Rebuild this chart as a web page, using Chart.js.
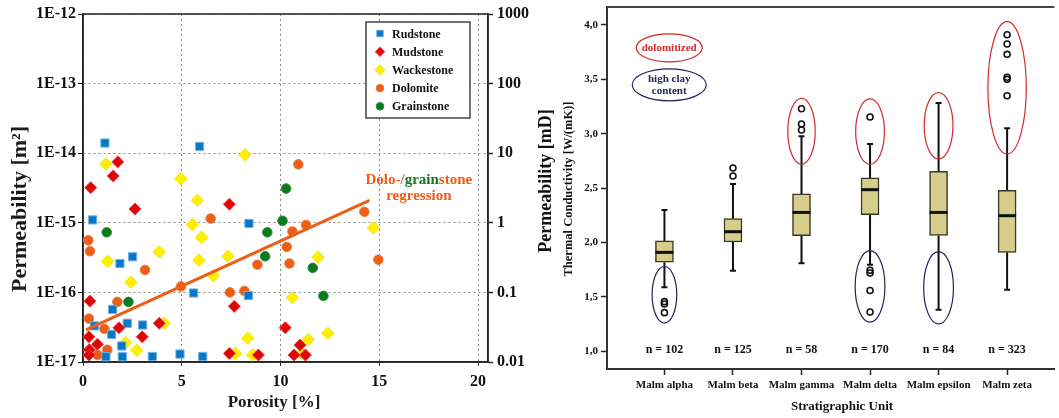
<!DOCTYPE html>
<html>
<head>
<meta charset="utf-8">
<script src="https://cdn.jsdelivr.net/npm/chart.js@4.4.1/dist/chart.umd.min.js"></script>
<style>
  html, body { margin: 0; padding: 0; background: #fff; }
  #wrap { position: relative; width: 1059px; height: 418px; overflow: hidden; }
  #porosity { position: absolute; left: 0; top: 0; }
  #conductivity { position: absolute; left: 530px; top: 0; }
</style>
</head>
<body>
<div id="wrap">
  <canvas id="porosity" width="530" height="418"></canvas>
  <canvas id="conductivity" width="529" height="418"></canvas>
</div>
<script>
// ---- Left: porosity vs permeability ----
var rudstone = [[1.11, 1.4e-14], [5.9, 1.25e-14], [0.49, 1.1e-15], [8.4, 9.8e-16], [1.87, 2.6e-16],
  [2.51, 3.25e-16], [5.6, 9.8e-17], [8.37, 9e-17], [1.5, 5.7e-17], [0.57, 3.3e-17], [2.24, 3.6e-17],
  [3.02, 3.4e-17], [1.45, 2.5e-17], [1.96, 1.7e-17], [1.16, 1.19e-17], [1.99, 1.19e-17],
  [3.51, 1.2e-17], [4.91, 1.3e-17], [6.06, 1.2e-17]];
var mudstone = [[1.76, 7.5e-15], [1.53, 4.7e-15], [0.39, 3.2e-15], [7.41, 1.85e-15], [2.63, 1.58e-15],
  [7.66, 6.3e-17], [0.35, 7.5e-17], [1.82, 3.1e-17], [3.86, 3.6e-17], [0.3, 2.3e-17], [3.0, 2.3e-17],
  [0.73, 1.8e-17], [0.32, 1.5e-17], [0.3, 1.26e-17], [7.41, 1.33e-17], [8.88, 1.26e-17],
  [10.24, 3.1e-17], [10.99, 1.75e-17], [10.68, 1.26e-17], [11.26, 1.26e-17]];
var wackestone = [[1.16, 7e-15], [4.96, 4.3e-15], [5.79, 2.1e-15], [8.2, 9.5e-15], [5.54, 9.4e-16],
  [6.0, 6.2e-16], [1.25, 2.8e-16], [3.86, 3.8e-16], [2.43, 1.4e-16], [5.87, 2.9e-16], [6.6, 1.75e-16],
  [7.33, 3.3e-16], [14.7, 8.4e-16], [11.9, 3.2e-16], [10.6, 8.4e-17], [4.12, 3.6e-17], [2.16, 1.9e-17],
  [2.72, 1.48e-17], [7.71, 1.33e-17], [8.34, 2.2e-17], [8.59, 1.26e-17], [12.39, 2.6e-17],
  [11.4, 2.1e-17], [11.05, 1.35e-17]];
var dolomite = [[10.9, 6.9e-15], [14.24, 1.44e-15], [11.29, 9.3e-16], [10.6, 7.5e-16], [10.31, 4.5e-16],
  [14.95, 2.95e-16], [8.83, 2.5e-16], [10.45, 2.6e-16], [8.17, 1.05e-16], [7.44, 1.0e-16],
  [6.46, 1.15e-15], [4.96, 1.22e-16], [0.27, 5.6e-16], [0.35, 3.9e-16], [3.14, 2.1e-16],
  [0.3, 4.2e-17], [1.74, 7.3e-17], [1.08, 3.0e-17], [1.23, 1.5e-17], [0.74, 1.26e-17]];
var grainstone = [[10.28, 3.1e-15], [10.1, 1.07e-15], [9.33, 7.3e-16], [9.22, 3.3e-16],
  [11.63, 2.25e-16], [12.17, 8.9e-17], [1.2, 7.3e-16], [2.3, 7.3e-17]];
var regressionLine = [[0.15, 2.9e-17], [14.5, 2.1e-15]];
var porosityTicks = [0, 5, 10, 15, 20];
var permTicks = [1e-17, 1e-16, 1e-15, 1e-14, 1e-13, 1e-12];
var mdTicks = [0.01, 0.1, 1, 10, 100, 1000];

// ---- Right: thermal conductivity per stratigraphic unit ----
var units = ['Malm alpha', 'Malm beta', 'Malm gamma', 'Malm delta', 'Malm epsilon', 'Malm zeta'];
var counts = [102, 125, 58, 170, 84, 323];
var q1 = [1.82, 2.005, 2.063, 2.256, 2.066, 1.91];
var median = [1.91, 2.10, 2.277, 2.486, 2.277, 2.247];
var q3 = [2.015, 2.22, 2.447, 2.594, 2.654, 2.48];
var whiskerLow = [1.59, 1.742, 1.81, 1.797, 1.383, 1.567];
var whiskerHigh = [2.30, 2.539, 2.976, 2.907, 3.283, 3.05];
var outliers = [[1.457, 1.435, 1.356], [2.686, 2.612], [3.23, 3.09, 3.035],
  [3.154, 1.745, 1.72, 1.56, 1.362], [], [3.91, 3.825, 3.73, 3.52, 3.50, 3.35]];
var conductivityTicks = [1.0, 1.5, 2.0, 2.5, 3.0, 3.5, 4.0];
// outlier groups: unit index (1-based), low/high value, half width in unit steps
var dolomitized = [[3, 2.72, 3.326, 0.2], [4, 2.72, 3.32, 0.21], [5, 2.768, 3.378, 0.21], [6, 2.814, 4.03, 0.28]];
var highClay = [[1, 1.26, 1.78, 0.18], [4, 1.268, 1.926, 0.217], [5, 1.252, 1.916, 0.217]];

var serif = "'Liberation Serif', 'Times New Roman', serif";
Chart.defaults.font.family = serif;
Chart.defaults.font.weight = 'bold';
Chart.defaults.color = '#1a1a1a';

function toPoints(list) {
  return list.map(function(p) { return { x: p[0], y: p[1] }; });
}

function fixBox(size) {
  return function(scale) {
    if (scale.isHorizontal()) scale.height = size; else scale.width = size;
    scale.paddingTop = 0; scale.paddingBottom = 0; scale.paddingLeft = 0; scale.paddingRight = 0;
  };
}

function setTicks(values) {
  return function(scale) {
    scale.ticks = values.map(function(v) { return { value: v }; });
  };
}

var ORANGE = '#ec5d16';
var GREEN = '#0b7a1e';

var porosityPlugin = {
  id: 'porosityExtras',
  beforeDatasetsDraw: function(chart) {
    var a = chart.chartArea, ctx = chart.ctx;
    ctx.save();
    ctx.strokeStyle = '#222';
    ctx.lineWidth = 1.5;
    ctx.strokeRect(a.left, a.top, a.right - a.left, a.bottom - a.top);
    ctx.restore();
  },
  afterDraw: function(chart) {
    var ctx = chart.ctx, xs = chart.scales.x, ys = chart.scales.y;
    ctx.save();
    // legend box
    ctx.fillStyle = '#fff';
    ctx.fillRect(366, 22, 104, 96);
    ctx.strokeStyle = '#444';
    ctx.lineWidth = 1.5;
    ctx.strokeRect(366, 22, 104, 96);
    ctx.font = 'bold 12px ' + serif;
    ctx.textBaseline = 'middle';
    ctx.textAlign = 'left';
    var row = 0;
    chart.data.datasets.forEach(function(ds) {
      if (ds.type === 'line') return;
      var y = 33.5 + row * 18.2;
      ctx.fillStyle = ds.backgroundColor;
      ctx.strokeStyle = ds.borderColor;
      ctx.lineWidth = ds.borderWidth;
      Chart.helpers.drawPoint(ctx, { pointStyle: ds.pointStyle, radius: ds.pointRadius * 0.8, borderWidth: ds.borderWidth, rotation: 0 }, 380, y);
      ctx.fillStyle = '#111';
      ctx.fillText(ds.label, 392, y + 1);
      row++;
    });
    // regression label
    ctx.font = 'bold 15px ' + serif;
    var parts = [['Dolo-/', ORANGE], ['grain', GREEN], ['stone', ORANGE]];
    var total = parts.reduce(function(s, p) { return s + ctx.measureText(p[0]).width; }, 0);
    var cx = xs.getPixelForValue(17.0), cy = ys.getPixelForValue(4.1e-15);
    var x = cx - total / 2;
    parts.forEach(function(p) {
      ctx.fillStyle = p[1];
      ctx.fillText(p[0], x, cy);
      x += ctx.measureText(p[0]).width;
    });
    ctx.textAlign = 'center';
    ctx.fillStyle = ORANGE;
    ctx.fillText('regression', cx, cy + 16);
    // axis titles
    ctx.fillStyle = '#1a1a1a';
    ctx.font = 'bold 17px ' + serif;
    ctx.fillText('Porosity [%]', 274, 403);
    ctx.translate(20, 209);
    ctx.rotate(-Math.PI / 2);
    ctx.font = 'bold 22px ' + serif;
    ctx.fillText('Permeability [m\u00b2]', 0, 0);
    ctx.restore();
  }
};

new Chart(document.getElementById('porosity'), {
  type: 'scatter',
  data: {
    datasets: [
      { label: 'Rudstone', data: toPoints(rudstone), pointStyle: 'rect', pointRadius: 5.8, pointHoverRadius: 5.8,
        backgroundColor: '#0a76c6', borderColor: '#6fb2e6', borderWidth: 1, order: 2 },
      { label: 'Mudstone', data: toPoints(mudstone), pointStyle: 'rectRot', pointRadius: 6, pointHoverRadius: 6,
        backgroundColor: '#e00606', borderColor: '#e84040', borderWidth: 1, order: 1 },
      { label: 'Wackestone', data: toPoints(wackestone), pointStyle: 'rectRot', pointRadius: 6.2, pointHoverRadius: 6.2,
        backgroundColor: '#fff000', borderColor: '#f2e400', borderWidth: 1, order: 3 },
      { label: 'Dolomite', data: toPoints(dolomite), pointStyle: 'circle', pointRadius: 4.8, pointHoverRadius: 4.8,
        backgroundColor: '#ec5d16', borderColor: '#f07a40', borderWidth: 1, order: 4 },
      { label: 'Grainstone', data: toPoints(grainstone), pointStyle: 'circle', pointRadius: 4.8, pointHoverRadius: 4.8,
        backgroundColor: '#0b7a1e', borderColor: '#2d8f3c', borderWidth: 1, order: 5 },
      { type: 'line', label: 'regression', data: toPoints(regressionLine), borderColor: ORANGE, borderWidth: 3,
        pointRadius: 0, showLine: true, fill: false, order: -1 }
    ]
  },
  options: {
    responsive: false,
    animation: false,
    layout: { padding: { top: 14, left: 0, right: 0, bottom: 0 } },
    plugins: { legend: { display: false }, tooltip: { enabled: false } },
    scales: {
      x: {
        type: 'linear', min: 0, max: 20.5,
        afterFit: fixBox(56), afterBuildTicks: setTicks(porosityTicks),
        ticks: { font: { size: 16 }, padding: 6, autoSkip: false, maxRotation: 0, color: '#111' },
        grid: { color: '#8a8a8a', lineWidth: 1, tickLength: 4, tickColor: '#222', tickBorderDash: [] },
        border: { display: true, color: '#222', width: 1.5, dash: [2, 3] }
      },
      y: {
        type: 'logarithmic', min: 1e-17, max: 1e-12,
        afterFit: fixBox(83), afterBuildTicks: setTicks(permTicks),
        ticks: { font: { size: 16 }, padding: 2, autoSkip: false, color: '#111',
          callback: function(v) { return '1E' + Math.round(Math.log10(v)); } },
        grid: { color: '#8a8a8a', lineWidth: 1, tickLength: 5, tickColor: '#222', tickBorderDash: [] },
        border: { display: true, color: '#222', width: 1.5, dash: [2, 3] }
      },
      y2: {
        type: 'logarithmic', position: 'right', min: 0.01, max: 1000,
        afterFit: fixBox(42), afterBuildTicks: setTicks(mdTicks),
        ticks: { font: { size: 16 }, padding: 4, autoSkip: false, color: '#111',
          callback: function(v) { return String(v); } },
        grid: { drawOnChartArea: false, tickLength: 5, tickColor: '#222', tickWidth: 1.5 },
        border: { display: true, color: '#222', width: 1.5 }
      }
    }
  },
  plugins: [porosityPlugin]
});

// ---- right chart ----
var RED = '#d42a2a';
var NAVY = '#23235f';

function drawGroups(chart, groups, color) {
  var ctx = chart.ctx, xs = chart.scales.x, ys = chart.scales.y;
  ctx.strokeStyle = color;
  ctx.lineWidth = 1.2;
  groups.forEach(function(g) {
    var cx = xs.getPixelForValue(g[0]);
    var rx = xs.getPixelForValue(g[0] + g[3]) - cx;
    var top = ys.getPixelForValue(g[2]), bottom = ys.getPixelForValue(g[1]);
    ctx.beginPath();
    ctx.ellipse(cx, (top + bottom) / 2, rx, (bottom - top) / 2, 0, 0, Math.PI * 2);
    ctx.stroke();
  });
}

var boxPlugin = {
  id: 'boxParts',
  beforeDatasetsDraw: function(chart) {
    var ctx = chart.ctx, xs = chart.scales.x, ys = chart.scales.y;
    ctx.save();
    ctx.strokeStyle = '#111';
    ctx.lineWidth = 2;
    units.forEach(function(u, i) {
      var px = xs.getPixelForValue(i + 1);
      [[q3[i], whiskerHigh[i]], [q1[i], whiskerLow[i]]].forEach(function(pair) {
        var a = ys.getPixelForValue(pair[0]), b = ys.getPixelForValue(pair[1]);
        ctx.beginPath();
        ctx.moveTo(px, a); ctx.lineTo(px, b);
        ctx.moveTo(px - 3, b); ctx.lineTo(px + 3, b);
        ctx.stroke();
      });
    });
    ctx.restore();
  },
  afterDatasetsDraw: function(chart) {
    var ctx = chart.ctx, xs = chart.scales.x, ys = chart.scales.y;
    ctx.save();
    ctx.strokeStyle = '#111';
    ctx.lineWidth = 3;
    median.forEach(function(m, i) {
      var px = xs.getPixelForValue(i + 1), py = ys.getPixelForValue(m);
      ctx.beginPath();
      ctx.moveTo(px - 9, py); ctx.lineTo(px + 9, py);
      ctx.stroke();
    });
    ctx.restore();
  },
  afterDraw: function(chart) {
    var ctx = chart.ctx, xs = chart.scales.x, ys = chart.scales.y, a = chart.chartArea;
    ctx.save();
    // top frame line
    ctx.strokeStyle = '#444';
    ctx.lineWidth = 2;
    ctx.beginPath();
    ctx.moveTo(a.left, a.top); ctx.lineTo(a.right, a.top);
    ctx.stroke();
    drawGroups(chart, dolomitized, RED);
    drawGroups(chart, highClay, NAVY);
    // key ellipses
    var kx = xs.getPixelForValue(1.07);
    var k1 = ys.getPixelForValue(3.79), k2 = ys.getPixelForValue(3.45);
    ctx.lineWidth = 1.2;
    ctx.strokeStyle = RED;
    ctx.beginPath(); ctx.ellipse(kx, k1, 33, 14, 0, 0, Math.PI * 2); ctx.stroke();
    ctx.strokeStyle = NAVY;
    ctx.beginPath(); ctx.ellipse(kx, k2, 37, 16, 0, 0, Math.PI * 2); ctx.stroke();
    ctx.textAlign = 'center';
    ctx.textBaseline = 'middle';
    ctx.font = 'bold 11px ' + serif;
    ctx.fillStyle = RED;
    ctx.fillText('dolomitized', kx, k1);
    ctx.fillStyle = NAVY;
    ctx.fillText('high clay', kx, k2 - 5.5);
    ctx.fillText('content', kx, k2 + 6);
    // sample counts
    ctx.fillStyle = '#111';
    ctx.font = 'bold 12px ' + serif;
    counts.forEach(function(n, i) {
      ctx.fillText('n = ' + n, xs.getPixelForValue(i + 1), ys.getPixelForValue(1.0) - 1);
    });
    // titles
    ctx.font = 'bold 13px ' + serif;
    ctx.fillText('Stratigraphic Unit', 312, 407);
    ctx.save();
    ctx.translate(16, 181);
    ctx.rotate(-Math.PI / 2);
    ctx.font = 'bold 18px ' + serif;
    ctx.fillText('Permeability [mD]', 0, 0);
    ctx.restore();
    ctx.translate(39, 189);
    ctx.rotate(-Math.PI / 2);
    ctx.font = 'bold 12.5px ' + serif;
    ctx.fillText('Thermal Conductivity [W/(mK)]', 0, 0);
    ctx.restore();
  }
};

var outlierPoints = [];
outliers.forEach(function(list, i) {
  list.forEach(function(v) { outlierPoints.push({ x: i + 1, y: v }); });
});

new Chart(document.getElementById('conductivity'), {
  type: 'bar',
  data: {
    datasets: [
      { type: 'scatter', data: outlierPoints, pointStyle: 'circle', pointRadius: 3, pointHoverRadius: 3,
        borderWidth: 1.6, borderColor: '#111', backgroundColor: 'rgba(255,255,255,0)', order: 0 },
      { type: 'bar', data: units.map(function(u, i) { return { x: i + 1, y: [q1[i], q3[i]] }; }),
        backgroundColor: '#d7ce8c', borderColor: '#3a3724', borderWidth: 1.5, borderSkipped: false,
        barThickness: 18, order: 1 }
    ]
  },
  options: {
    responsive: false,
    animation: false,
    layout: { padding: { top: 7, left: 0, right: 0, bottom: 0 } },
    plugins: { legend: { display: false }, tooltip: { enabled: false } },
    scales: {
      x: {
        type: 'linear', min: 0.162, max: 6.69, offset: false,
        afterFit: fixBox(49), afterBuildTicks: setTicks([1, 2, 3, 4, 5, 6]),
        ticks: { font: { size: 11 }, padding: 4, autoSkip: false, maxRotation: 0, color: '#111',
          callback: function(v) { return units[Math.round(v) - 1]; } },
        grid: { drawOnChartArea: false, offset: false, tickLength: 6, tickColor: '#222', tickWidth: 1.5 },
        border: { display: true, color: '#333', width: 2 }
      },
      y: {
        type: 'linear', min: 0.838, max: 4.165, beginAtZero: false,
        afterFit: fixBox(77), afterBuildTicks: setTicks(conductivityTicks),
        ticks: { font: { size: 11 }, padding: 3, autoSkip: false, color: '#111',
          callback: function(v) { return v.toFixed(1).replace('.', ','); } },
        grid: { drawOnChartArea: false, tickLength: 6, tickColor: '#222', tickWidth: 1.5 },
        border: { display: true, color: '#333', width: 2 }
      }
    }
  },
  plugins: [boxPlugin]
});
</script>
</body>
</html>
